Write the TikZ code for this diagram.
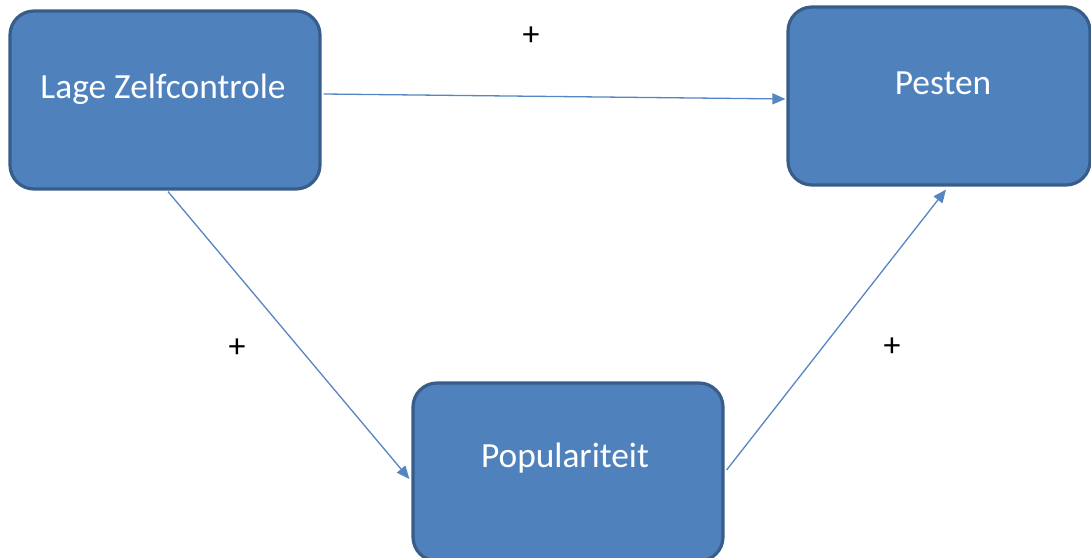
\documentclass[tikz,border=0pt]{standalone}
\usepackage{fontspec}
\setmainfont{Carlito}
\usetikzlibrary{arrows.meta,calc}
\definecolor{boxfill}{HTML}{4F81BD}
\definecolor{boxline}{HTML}{385D8A}
\definecolor{arrowcol}{HTML}{5585C2}
\tikzset{
  box/.style={draw=boxline, line width=3.2bp, fill=boxfill, rounded corners=24bp, minimum width=#1, minimum height=178bp, inner sep=0pt},
  boxtext/.style={text=white, font=\fontsize{35.5}{42}\selectfont, anchor=base, inner sep=0pt},
  arr/.style={draw=arrowcol, line width=1.3bp, -{Triangle[length=13bp,width=11bp]}},
  sign/.style={font=\fontsize{34}{36}\selectfont, inner sep=0pt}
}
\begin{document}
\begin{tikzpicture}[x=1bp,y=-1bp]
\useasboundingbox (0,0) rectangle (1091,558);
\node[box=310bp] (b1) at (165,100) {};
\node[box=302bp] (b2) at (939,96) {};
\node[box=310bp] (b3) at (568,472) {};
\node[boxtext] (t1) at (163,99) {Lage Zelfcontrole};
\node[boxtext] (t2) at (943,95) {Pesten};
\node[boxtext] (t3) at (565,467) {Populariteit};
\draw[arr] ([xshift=2bp,yshift=6bp]b1.east) -- ([xshift=-1bp,yshift=-3bp]b2.west);
\draw[arr] ([xshift=3bp,yshift=-1bp]b1.south) -- ([xshift=-2bp,yshift=-7bp]b3.west);
\draw[arr] ([xshift=2bp,yshift=2bp]b3.east) -- ([xshift=7bp,yshift=-3bp]b2.south);
\node[sign] (p1) at (531,36) {+};
\node[sign] (p2) at (237,348) {+};
\node[sign] (p3) at (892,347) {+};
\end{tikzpicture}
\end{document}
